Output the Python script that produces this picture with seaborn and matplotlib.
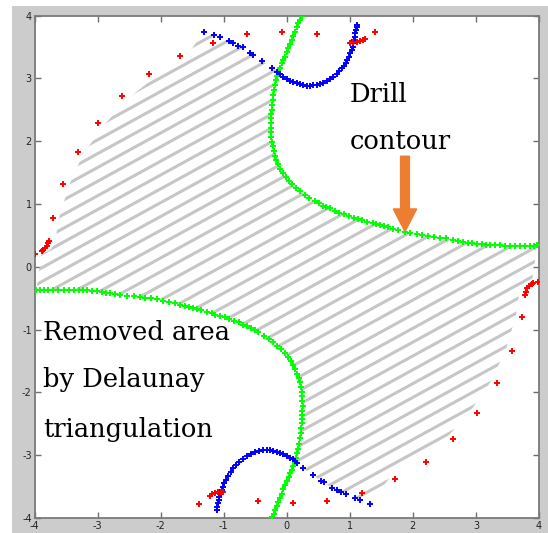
import numpy as np
import matplotlib
matplotlib.use("Agg")
import matplotlib.pyplot as plt
from matplotlib.patches import Polygon, Rectangle
import seaborn as sns

# ---------------- data ----------------
# drill contour (green), upper-right curve: from top edge to right edge
ug_x = [0.237, 0.21, 0.184, 0.158, 0.131, 0.105, 0.078, 0.052, 0.025, -0.001, -0.028, -0.054, -0.08, -0.107,
        -0.134, -0.152, -0.17, -0.186, -0.202, -0.213, -0.223, -0.231, -0.239, -0.243, -0.245, -0.249, -0.25,
        -0.248, -0.244, -0.237, -0.225, -0.21, -0.19, -0.165, -0.135, -0.1, -0.06, -0.015, 0.035, 0.09, 0.15,
        0.215, 0.285, 0.36, 0.448, 0.51, 0.57, 0.63, 0.686, 0.765, 0.835, 0.908, 0.985, 1.066, 1.13, 1.189,
        1.27, 1.363, 1.42, 1.479, 1.545, 1.611, 1.69, 1.77, 1.875, 1.96, 2.06, 2.15, 2.24, 2.33, 2.43, 2.53,
        2.64, 2.72, 2.8, 2.87, 2.933, 3.01, 3.09, 3.16, 3.223, 3.3, 3.38, 3.46, 3.54, 3.62, 3.70, 3.78, 3.857,
        3.92, 3.97]
ug_y = [3.99, 3.933, 3.876, 3.809, 3.742, 3.676, 3.61, 3.544, 3.478, 3.411, 3.344, 3.29, 3.239, 3.172,
        3.105, 3.04, 2.973, 2.894, 2.814, 2.734, 2.654, 2.575, 2.495, 2.43, 2.363, 2.29, 2.215,
        2.14, 2.065, 1.99, 1.915, 1.84, 1.77, 1.70, 1.63, 1.56, 1.495, 1.43, 1.37, 1.31, 1.255,
        1.20, 1.15, 1.10, 1.046, 1.008, 0.971, 0.95, 0.93, 0.887, 0.86, 0.834, 0.806, 0.78, 0.762, 0.744,
        0.718, 0.691, 0.678, 0.664, 0.645, 0.627, 0.605, 0.585, 0.557, 0.538, 0.52, 0.505, 0.49, 0.478, 0.465, 0.45,
        0.43, 0.41, 0.395, 0.385, 0.375, 0.365, 0.357, 0.352, 0.346, 0.343, 0.341, 0.338, 0.336, 0.335, 0.334, 0.334, 0.334,
        0.337, 0.34]
# drill contour (green), lower-left curve: from bottom edge to left edge
lg_x = [-0.237, -0.21, -0.184, -0.158, -0.131, -0.105, -0.078, -0.052, -0.025, 0.001, 0.028, 0.054, 0.08, 0.107,
        0.134, 0.152, 0.17, 0.186, 0.202, 0.213, 0.223, 0.231, 0.239, 0.243, 0.245, 0.249, 0.25,
        0.248, 0.244, 0.237, 0.225, 0.21, 0.19, 0.165, 0.135, 0.1, 0.06, 0.015, -0.035, -0.09, -0.15,
        -0.215, -0.285, -0.36, -0.448, -0.51, -0.57, -0.63, -0.686, -0.765, -0.835, -0.908, -0.985, -1.066, -1.13, -1.189,
        -1.27, -1.363, -1.42, -1.479, -1.545, -1.611, -1.69, -1.77, -1.875, -1.96, -2.06, -2.15, -2.24, -2.33, -2.43, -2.53,
        -2.64, -2.72, -2.8, -2.87, -2.933, -3.01, -3.09, -3.16, -3.223, -3.3, -3.38, -3.46, -3.54, -3.62, -3.70, -3.78, -3.857,
        -3.92, -3.97]
lg_y = [-3.99, -3.933, -3.876, -3.809, -3.742, -3.676, -3.61, -3.544, -3.478, -3.411, -3.344, -3.29, -3.239, -3.172,
        -3.105, -3.04, -2.973, -2.894, -2.814, -2.734, -2.654, -2.575, -2.495, -2.43, -2.363, -2.29, -2.215,
        -2.14, -2.065, -1.99, -1.915, -1.84, -1.77, -1.70, -1.63, -1.56, -1.495, -1.43, -1.37, -1.31, -1.255,
        -1.20, -1.15, -1.10, -1.046, -1.008, -0.971, -0.95, -0.93, -0.887, -0.86, -0.834, -0.806, -0.78, -0.762, -0.744,
        -0.718, -0.691, -0.678, -0.664, -0.645, -0.627, -0.605, -0.585, -0.557, -0.538, -0.52, -0.505, -0.49, -0.48, -0.47, -0.46,
        -0.445, -0.43, -0.42, -0.41, -0.40, -0.39, -0.383, -0.378, -0.373, -0.37, -0.368, -0.366, -0.365, -0.364, -0.363, -0.363, -0.363,
        -0.363, -0.363]

# blue arcs
ub_x = [-0.159, -0.107, -0.054, 0.0, 0.052, 0.105, 0.158, 0.21, 0.263, 0.316, 0.369, 0.422, 0.475, 0.528, 0.58,
        0.633, 0.686, 0.74, 0.792, 0.832, 0.871, 0.905, 0.935, 0.962, 0.987, 1.01, 1.03, 1.044, 1.055, 1.069,
        1.082, 1.09, 1.098, 1.108, 1.119]
ub_y = [3.105, 3.064, 3.026, 2.993, 2.962, 2.94, 2.92, 2.903, 2.889, 2.884, 2.882, 2.887, 2.898, 2.912, 2.93,
        2.955, 2.984, 3.024, 3.068, 3.112, 3.159, 3.203, 3.248, 3.296, 3.344, 3.397, 3.45, 3.503, 3.557, 3.61,
        3.662, 3.716, 3.769, 3.81, 3.849]
lb_x = [-1.111, -1.103, -1.095, -1.082, -1.069, -1.05, -1.031, -1.01, -0.99, -0.96, -0.927, -0.887, -0.847, -0.8,
        -0.752, -0.695, -0.635, -0.57, -0.503, -0.437, -0.371, -0.318, -0.266, -0.212, -0.159, -0.106, -0.054, 0.0,
        0.052, 0.092, 0.131, 0.167]
lb_y = [-3.874, -3.82, -3.768, -3.715, -3.662, -3.61, -3.556, -3.5, -3.449, -3.39, -3.333, -3.27, -3.21, -3.155,
        -3.105, -3.057, -3.014, -2.977, -2.946, -2.93, -2.919, -2.917, -2.919, -2.93, -2.946, -2.965, -2.987, -3.012,
        -3.041, -3.065, -3.089, -3.121]

# blue scattered points (from junction outwards)
us_x = [-0.238, -0.397, -0.53, -0.583, -0.698, -0.768, -0.847, -0.911, -1.058, -1.149, -1.312]
us_y = [3.169, 3.28, 3.371, 3.408, 3.494, 3.519, 3.557, 3.594, 3.662, 3.689, 3.742]
ls_x = [0.263, 0.412, 0.539, 0.596, 0.723, 0.792, 0.86, 0.935, 1.082, 1.162, 1.32]
ls_y = [-3.21, -3.317, -3.408, -3.433, -3.529, -3.556, -3.583, -3.619, -3.688, -3.715, -3.783]

# red points (outer boundary)
red_x = [-2.18, -2.617, -2.988, -3.315, -3.548, -3.711, -3.886, -3.86, -3.833, -3.807, -3.781, -3.765, -3.99,
         -1.693, -1.165, -0.625, -0.07, 0.475, 1.40, 1.003, 1.056, 1.109, 1.162, 1.205, 1.241,
         3.99, 3.778, 3.794, 3.815, 3.847, 3.885, 3.91, 3.726,
         3.567, 3.33, 3.012, 2.641, 2.204, 1.717,
         -1.387, -1.217, -1.18, -1.138, -1.095, -1.048, -1.006, -0.46, 0.095, 0.643, 1.189]
red_y = [3.068, 2.718, 2.293, 1.831, 1.312, 0.771, 0.255, 0.266, 0.293, 0.33, 0.373, 0.409, 0.21,
         3.355, 3.567, 3.70, 3.732, 3.70, 3.742, 3.567, 3.573, 3.578, 3.589, 3.61, 3.626,
         -0.239, -0.451, -0.398, -0.344, -0.307, -0.28, -0.264, -0.806,
         -1.342, -1.857, -2.325, -2.748, -3.105, -3.385,
         -3.779, -3.651, -3.619, -3.599, -3.588, -3.583, -3.588, -3.726, -3.768, -3.731, -3.599]

# hatch (tool path) lines: y = slope*x + intercept
hatch_slope = 0.55
hatch_intercepts = [-4.51, -4.29, -4.07, -3.85, -3.62, -3.40, -3.18, -2.96, -2.74, -2.52, -2.30, -2.08, -1.86,
                    -1.63, -1.41, -1.19, -0.97, -0.75, -0.53, -0.31, -0.09, 0.13, 0.35, 0.57, 0.80, 1.02,
                    1.24, 1.46, 1.68, 1.90, 2.12, 2.34, 2.56, 2.78, 3.01, 3.23, 3.45, 3.67, 3.89, 4.11, 4.33]

ticks = [-4, -3, -2, -1, 0, 1, 2, 3, 4]

# ---------------- figure ----------------
sns.set_style("ticks")
plt.rcParams["font.family"] = ["DejaVu Sans"]
plt.rcParams["axes.unicode_minus"] = False

fig = plt.figure(figsize=(5.48, 5.33), dpi=100, facecolor="white")
fig.patches.append(Rectangle((12 / 548, 0), 1 - 12 / 548, 1 - 6 / 533, transform=fig.transFigure,
                             facecolor="#cccccc", edgecolor="none", zorder=-10))
ax = fig.add_axes([34.5 / 548, 1 - 518 / 533, (539 - 34.5) / 548, (518 - 15.5) / 533])
ax.set_facecolor("white")

# clip polygon of remaining area
ugx, ugy = np.array(ug_x), np.array(ug_y)
lgx, lgy = np.array(lg_x), np.array(lg_y)
rx, ry = np.array(red_x), np.array(red_y)
ang = np.degrees(np.arctan2(ry, rx))
m_right = (ang > -66) & (ang < 0)
m_left = (ang > 114) & (ang < 180)
o_r = np.argsort(ang[m_right]); o_l = np.argsort(ang[m_left])
inset = 0.975
poly = []
sel = lgy > -3.12
poly += list(zip(lgx[sel][::-1], lgy[sel][::-1]))
poly += list(zip(ls_x, ls_y))
poly += list(zip(rx[m_right][o_r] * inset, ry[m_right][o_r] * inset))
sel = ugy < 3.12
poly += list(zip(ugx[sel][::-1], ugy[sel][::-1]))
poly += list(zip(us_x, us_y))
poly += list(zip(rx[m_left][o_l] * inset, ry[m_left][o_l] * inset))
clip = Polygon(poly, closed=True, facecolor="none", edgecolor="none", transform=ax.transData)
ax.add_patch(clip)

xx = np.array([-4.5, 4.5])
for b in hatch_intercepts:
    ln, = ax.plot(xx, hatch_slope * xx + b, color="#c6c6c6", lw=2.2, solid_capstyle="butt", zorder=1)
    ln.set_clip_path(clip)

kw = dict(marker="+", linewidth=1.4, ax=ax, legend=False, zorder=4)
sns.scatterplot(x=ug_x, y=ug_y, color="#00ff00", s=13, **kw)
sns.scatterplot(x=lg_x, y=lg_y, color="#00ff00", s=13, **kw)
sns.scatterplot(x=ub_x, y=ub_y, color="#0000ff", s=15, **kw)
sns.scatterplot(x=lb_x, y=lb_y, color="#0000ff", s=15, **kw)
sns.scatterplot(x=us_x, y=us_y, color="#0000ff", s=15, **kw)
sns.scatterplot(x=ls_x, y=ls_y, color="#0000ff", s=15, **kw)
sns.scatterplot(x=red_x, y=red_y, color="#ff0000", s=15, **kw)

ax.set_xlim(-4, 4)
ax.set_ylim(-4, 4)
ax.set_xticks(ticks)
ax.set_yticks(ticks)
ax.set_xticklabels([str(t) for t in ticks])
ax.set_yticklabels([str(t) for t in ticks])
ax.tick_params(direction="in", length=4, width=1, color="#6e6e6e", top=True, right=True,
               labelsize=7, labelcolor="#222222", pad=2)
for sp in ax.spines.values():
    sp.set_visible(True)
    sp.set_color("#7a7a7a")
    sp.set_linewidth(1.3)
ax.set_xlabel("")
ax.set_ylabel("")

# annotations
tfont = dict(family="DejaVu Serif", fontsize=18.5, color="black", va="baseline", ha="left")
ax.text(1.0, 2.62, "Drill", **tfont)
ax.text(1.0, 1.87, "contour", **tfont)
ax.text(-3.865, -1.17, "Removed area", **tfont)
ax.text(-3.865, -1.92, "by Delaunay", **tfont)
ax.text(-3.865, -2.71, "triangulation", **tfont)
ax.arrow(1.875, 1.76, 0, -1.2, width=0.14, head_width=0.37, head_length=0.36,
         length_includes_head=True, color="#ed7d31", zorder=5)

fig.savefig("out.png", dpi=100, facecolor=fig.get_facecolor())
